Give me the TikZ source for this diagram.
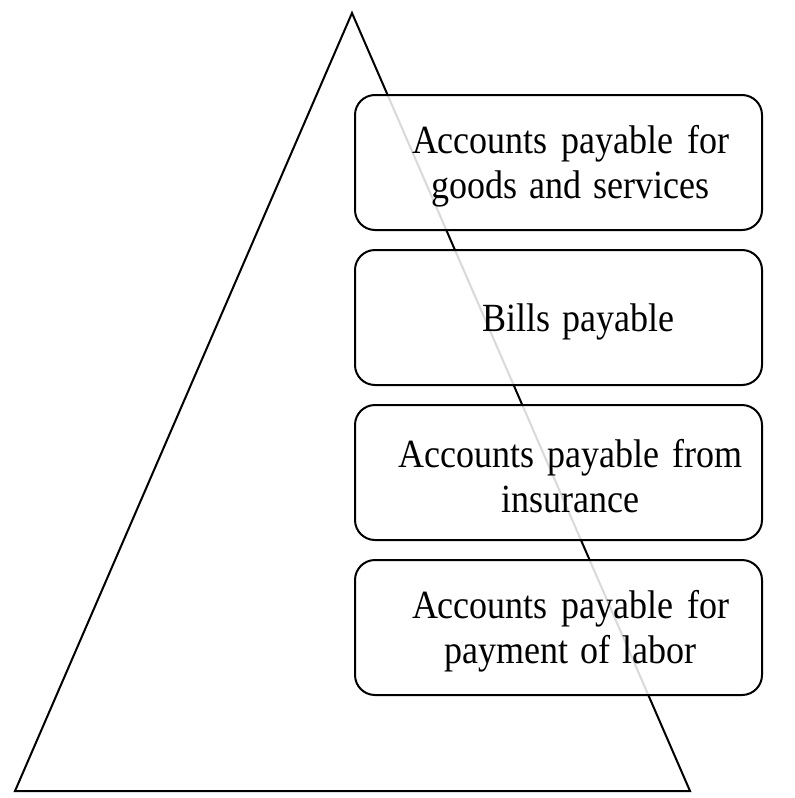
\documentclass[tikz,border=0pt]{standalone}
\usepackage{fontspec}
\setmainfont[FakeStretch=0.9, WordSpace=1.3]{Liberation Serif}
\usetikzlibrary{positioning}

\begin{document}
\begin{tikzpicture}[x=1pt,y=-1pt,
  every node/.style={inner sep=0pt},
  itembox/.style={draw=black, line width=2pt, rounded corners=20pt, fill=white,
    fill opacity=0.85, minimum width=407pt, minimum height=135pt},
  itemtext/.style={align=center, xshift=12pt, yshift=-4pt,
    font=\fontsize{40}{45}\selectfont}]
\useasboundingbox (0,0) rectangle (795,798);
% pyramid
\coordinate (apex) at (352,13);
\coordinate (baseL) at (15,791);
\coordinate (baseR) at (690,791);
\draw [black, line width=2pt, line join=miter] (apex) -- (baseR) -- (baseL) -- cycle;
% the four kinds of payables
\node [itembox] (goods) at (558.5,162.5) {};
\node [itembox, below=18pt of goods] (bills) {};
\node [itembox, below=18pt of bills] (insur) {};
\node [itembox, below=18pt of insur] (labor) {};
\node [itemtext] (goodstxt) at (goods)
  {\makebox[317pt][s]{Accounts payable for}\\goods and services};
\node [itemtext, xshift=8pt] (billstxt) at (bills) {Bills payable};
\node [itemtext] (insurtxt) at (insur)
  {\makebox[344pt][s]{Accounts payable from}\\insurance};
\node [itemtext] (labortxt) at (labor)
  {\makebox[317pt][s]{Accounts payable for}\\payment of labor};
\end{tikzpicture}
\end{document}
